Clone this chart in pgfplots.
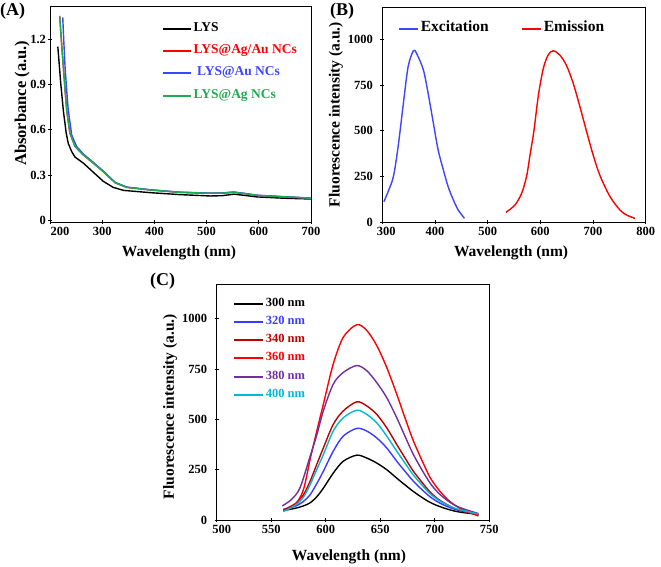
\documentclass[border=0pt]{standalone}
\usepackage{fontspec}
\setmainfont{Liberation Serif}
\usepackage{pgfplots}
\pgfplotsset{compat=1.18}
\definecolor{bluA}{RGB}{60,70,255}
\definecolor{grnA}{RGB}{30,170,80}
\definecolor{bluC}{RGB}{55,60,255}
\definecolor{dredC}{RGB}{190,0,0}
\definecolor{purC}{RGB}{112,48,160}
\definecolor{cyaC}{RGB}{0,185,210}
\pgfplotsset{
  myaxis/.style={
    scale only axis,
    axis line style={line width=0.9pt},
    tick align=center,
    major tick length=4pt,
    every tick/.style={line width=0.9pt, black},
    tick pos=left,
    tick label style={font=\fontsize{12.5}{12.5}\selectfont\bfseries},
    /pgf/number format/assume math mode=true,
    /pgf/number format/1000 sep={},
    label style={font=\fontsize{15.5}{15.5}\selectfont\bfseries},
    legend cell align=left,
    every axis plot/.append style={line width=1.4pt},
  }
}
\begin{document}
\begin{tikzpicture}
\useasboundingbox (0pt,0pt) rectangle (661pt,566pt);
% ---------------- (A)
\begin{axis}[myaxis,
  at={(50pt,344pt)}, anchor=south west,
  width=261pt, height=216pt,
  xmin=200, xmax=700, ymin=-0.009, ymax=1.419,
  xtick={200,300,400,500,600,700},
  xticklabels={\makebox[0pt]{\hspace{20pt}200},300,400,500,600,700},
  ytick={0,0.3,0.6,0.9,1.2},
  yticklabels={0,0.3,0.6,0.9,1.2},
  yticklabel style={xshift=1.5pt},
  xlabel={Wavelength (nm)}, ylabel={Absorbance (a.u.)},
  xlabel style={at={(axis description cs:0.494,-0.1435)}, anchor=center},
  ylabel style={at={(axis description cs:-0.107,0.55)}, anchor=center, font=\fontsize{16.5}{16.5}\selectfont\bfseries},
  legend image code/.code={\draw[#1,line width=2pt] (0pt,0pt) -- (28pt,0pt);},
  legend style={at={(0.429,0.922)}, anchor=north west, draw=none, fill=none, inner sep=0pt,
    font=\fontsize{13.5}{13.5}\selectfont\bfseries, row sep=10.2pt,
    nodes={inner sep=1.5pt, text height=0.7em, text depth=0.2em}},
]
\addplot[black] table {
215 1.15
218 1.02
220.5 0.91
225.5 0.73
231 0.58
235 0.51
241.6 0.456
248 0.42
264 0.38
283 0.32
302 0.26
321 0.22
341 0.20
392 0.185
449 0.172
507 0.163
530 0.165
552 0.175
575 0.166
596 0.157
650 0.148
700 0.143
};
\addlegendentry{LYS}
\addplot[red] table {
218.6 1.353
222 1.18
225.5 1.02
229 0.86
232 0.73
238 0.58
248 0.49
264 0.434
283 0.38
302 0.324
325 0.25
347 0.22
392 0.203
449 0.187
507 0.181
530 0.182
552 0.188
575 0.178
596 0.167
650 0.157
700 0.148
};
\addlegendentry{\textcolor{red}{LYS@Ag/Au NCs}}
\addplot[bluA] table {
224.4 1.344
226.5 1.18
228.8 1.02
232 0.86
235 0.73
241.6 0.566
251 0.49
264 0.44
283 0.385
302 0.328
325 0.253
347 0.222
392 0.204
449 0.188
507 0.182
530 0.183
552 0.189
575 0.179
596 0.168
650 0.158
700 0.149
};
\addlegendentry{\textcolor{bluA}{\ LYS@Au NCs}}
\addplot[grnA] table {
218.6 1.353
222 1.18
225.5 1.02
229 0.86
232 0.73
238 0.58
248 0.49
264 0.434
283 0.38
302 0.324
325 0.25
347 0.22
392 0.203
449 0.187
507 0.181
530 0.182
552 0.188
575 0.178
596 0.167
650 0.157
700 0.148
};
\addlegendentry{\textcolor{grnA}{LYS@Ag NCs}}
\end{axis}
% ---------------- (B)
\begin{axis}[myaxis,
  at={(382.3pt,344pt)}, anchor=south west,
  width=263.4pt, height=214.7pt,
  xmin=300, xmax=800, ymin=0, ymax=1175,
  xtick={300,400,500,600,700,800},
  xticklabels={\makebox[0pt]{\hspace{8pt}300},400,500,600,700,800},
  ytick={0,250,500,750,1000},
  yticklabel style={xshift=-4pt},
  xlabel={Wavelength (nm)}, ylabel={Fluorescence intensity (a.u.)},
  xlabel style={at={(axis description cs:0.489,-0.144)}, anchor=center},
  ylabel style={at={(axis description cs:-0.176,0.5)}, anchor=center},
  legend columns=2,
  legend image code/.code={\draw[#1,line width=2pt] (0pt,0pt) -- (19pt,0pt);},
  legend style={at={(0.06,0.928)}, anchor=north west, draw=none, fill=none, inner sep=0pt,
    font=\fontsize{15.5}{15.5}\selectfont\bfseries,
    nodes={inner sep=1.5pt, text height=0.7em, text depth=0.2em},
    /tikz/every odd column/.append style={column sep=0pt},
    /tikz/every even column/.append style={column sep=31pt}},
]
\addplot[bluA, smooth] table {
303 111
311 166
321 248
330 412
340 649
349 850
359 937
365 923
378 832
387 704
397 540
406 394
416 284
425 193
435 120
444 66
456 20
};
\addlegendentry{Excitation}
\addplot[red, smooth] table {
534.7 53
551.8 93
564.5 157
573.9 250
580.3 365
587.9 500
596.1 690
605.6 840
615 915
624.5 937
637.2 913
649.9 855
662.5 758
675.1 631
687.8 495
700.4 365
713.1 255
732 140
751 66
764 38
779.5 20
};
\addlegendentry{Emission}
\end{axis}
% ---------------- (C)
\begin{axis}[myaxis,
  at={(216.7pt,46pt)}, anchor=south west,
  width=272.6pt, height=236pt,
  xmin=500, xmax=750, ymin=0, ymax=1172,
  xtick={500,550,600,650,700,750},
  xticklabels={\makebox[0pt]{\hspace{10pt}500},550,600,650,700,750},
  ytick={0,250,500,750,1000},
  yticklabel style={xshift=-4pt},
  xlabel={Wavelength (nm)}, ylabel={Fluorescence intensity (a.u.)},
  xlabel style={at={(axis description cs:0.485,-0.155)}, anchor=center},
  ylabel style={at={(axis description cs:-0.171,0.48)}, anchor=center},
  legend image code/.code={\draw[#1,line width=2pt] (0pt,0pt) -- (29pt,0pt);},
  legend style={at={(0.06,0.942)}, anchor=north west, draw=none, fill=none, inner sep=0pt,
    font=\fontsize{12.5}{12.5}\selectfont\bfseries, row sep=6.2pt,
    nodes={inner sep=1.5pt, text height=0.7em, text depth=0.2em}},
]
\addplot[black, smooth] table {
561.1 47
571.8 58
579.5 70
585.6 85
591.7 115
597.8 158
606.9 233
616.1 292
628.4 322
637.5 308
646.7 283
655.9 250
665.1 208
672.5 175
680 143
688 113
695.5 88
703 70
711 55
718.5 44
726 37
740 28
};
\addlegendentry{300 nm}
\addplot[bluC, smooth] table {
561.1 53
571.8 68
579.5 92
585.6 125
591.7 180
597.8 242
606.9 342
616.1 417
628.4 455
637.5 442
646.7 408
655.9 358
665.1 292
672.5 243
680 195
688 152
695.5 116
703 89
711 68
718.5 53
726 43
740 29
};
\addlegendentry{\textcolor{bluC}{320 nm}}
\addplot[dredC, smooth] table {
561.1 50
571.8 80
579.5 125
585.6 192
591.7 275
597.8 358
606.9 475
616.1 542
628.4 587
637.5 567
646.7 525
655.9 458
665.1 375
672.5 310
680 245
688 189
695.5 140
703 104
711 77
718.5 57
726 44
740 26
};
\addlegendentry{\textcolor{dredC}{340 nm}}
\addplot[red, smooth] table {
561.1 47
571.8 75
579.5 150
585.6 300
591.7 440
597.8 575
606.9 775
616.1 908
628.4 970
637.5 942
646.7 867
655.9 758
665.1 625
672.5 510
680 398
688 299
695.5 213
703 154
711 106
718.5 73
726 50
740 20
};
\addlegendentry{\textcolor{red}{360 nm}}
\addplot[purC, smooth] table {
560.2 70
568.8 103
576.4 160
585.6 315
591.7 420
597.8 542
606.9 675
616.1 733
628.4 767
637.5 742
646.7 683
655.9 608
665.1 508
672.5 418
680 329
688 251
695.5 185
703 136
711 99
718.5 73
726 56
740 32
};
\addlegendentry{\textcolor{purC}{380 nm}}
\addplot[cyaC, smooth] table {
561.1 42
571.8 72
579.5 113
585.6 175
591.7 250
597.8 325
606.9 442
616.1 508
628.4 545
637.5 525
646.7 483
655.9 417
665.1 342
672.5 284
680 226
688 175
695.5 132
703 100
711 76
718.5 58
726 47
740 30
};
\addlegendentry{\textcolor{cyaC}{400 nm}}
\end{axis}
% panel labels
\node[anchor=north west, inner sep=0pt, font=\fontsize{18}{18}\selectfont\bfseries] at (0pt,563pt) {(A)};
\node[anchor=north west, inner sep=0pt, font=\fontsize{18}{18}\selectfont\bfseries] at (330pt,563pt) {(B)};
\node[anchor=north west, inner sep=0pt, font=\fontsize{18}{18}\selectfont\bfseries] at (150pt,293pt) {(C)};
\end{tikzpicture}
\end{document}
